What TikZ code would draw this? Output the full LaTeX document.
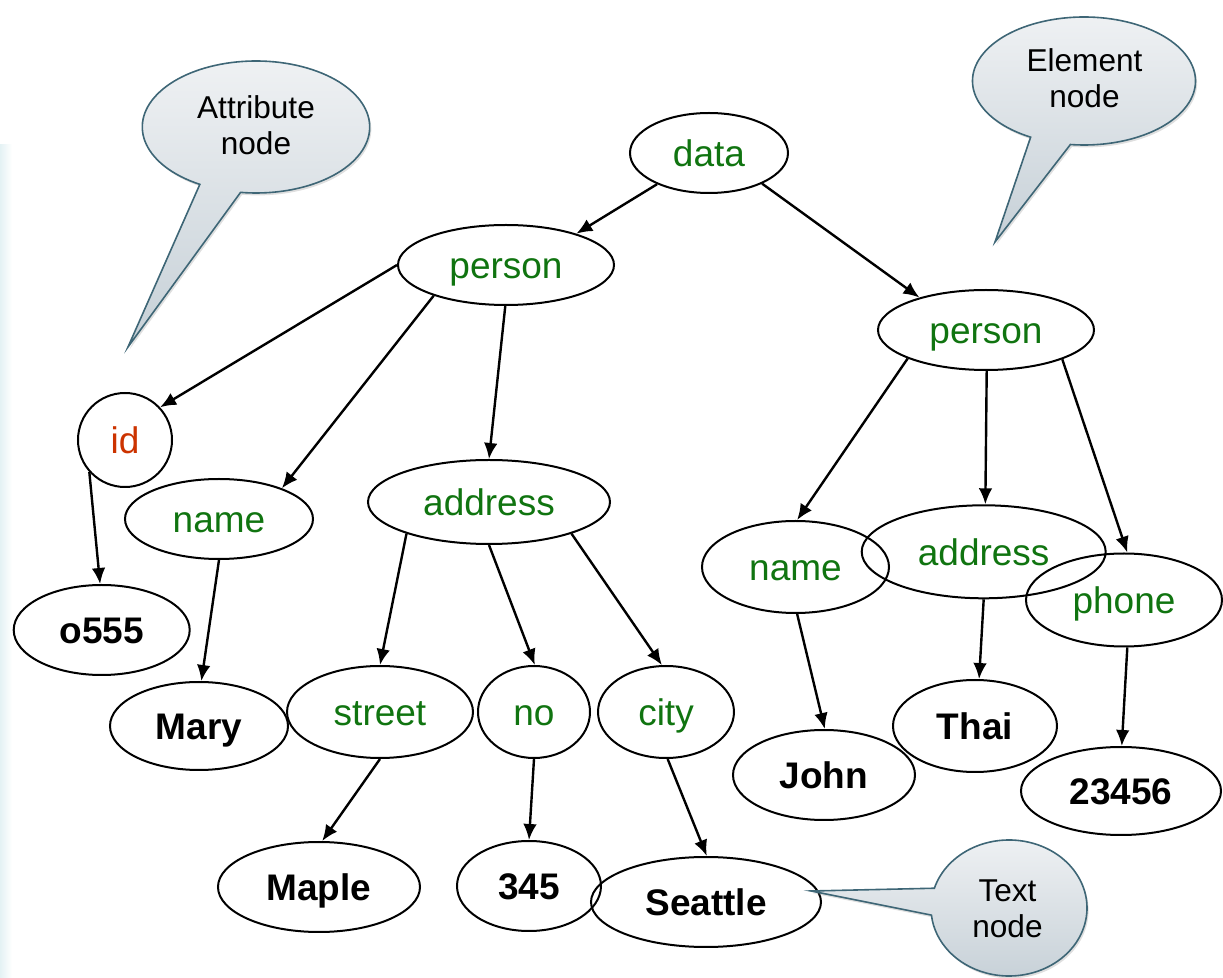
\documentclass[tikz,border=0pt]{standalone}
\usepackage{fontspec}
\setmainfont{Liberation Sans}
\usetikzlibrary{arrows.meta,shapes.geometric,shadows,calc}
\definecolor{elgreen}{RGB}{16,116,16}
\definecolor{attred}{RGB}{204,51,0}
\definecolor{calline}{RGB}{62,102,118}
\definecolor{caltop}{RGB}{240,242,244}
\definecolor{calbot}{RGB}{198,208,215}
\definecolor{stripc}{RGB}{228,242,244}
\begin{document}
\begin{tikzpicture}[x=0.5pt,y=-0.5pt,
  tnode/.style={ellipse,draw,line width=1pt,inner sep=0pt,text height=16.3pt,text depth=2.6pt,font=\fontsize{18.5}{22}\selectfont},
  elem/.style={tnode,text=elgreen},
  txt/.style={tnode,font=\fontsize{18.5}{22}\selectfont\bfseries},
  edge/.style={line width=1.2pt,-{Latex[length=8pt,width=6.8pt]}},
  callout/.style={draw=calline,line width=0.8pt,top color=caltop,bottom color=calbot,drop shadow={opacity=0.25,shadow xshift=0.8pt,shadow yshift=-1.2pt}},
  caltext/.style={anchor=base,inner sep=0pt,font=\fontsize{15.8}{18}\selectfont}
]
\useasboundingbox (0,0) rectangle (1223,978);
\shade[left color=stripc,right color=white] (0,145) rectangle (12,978);

% element nodes
\node[elem,minimum width=79pt,minimum height=40pt] (data) at (709,153) {data};
\node[elem,minimum width=108pt,minimum height=40pt] (p1) at (506,265) {person};
\node[elem,minimum width=108pt,minimum height=40pt] (p2) at (986,330) {person};
\node[tnode,circle,text=attred,minimum size=47pt] (id) at (125,440) {id};
\node[elem,minimum width=94pt,minimum height=40pt] (name1) at (219,519) {name};
\node[elem,minimum width=121pt,minimum height=42pt] (addr1) at (489,502) {address};
\node[elem,minimum width=93pt,minimum height=46pt] (street) at (380,712) {street};
\node[elem,minimum width=56pt,minimum height=46pt] (no) at (534,712) {no};
\node[elem,minimum width=68pt,minimum height=46pt] (city) at (666,712) {city};
\node[elem,minimum width=93.5pt,minimum height=46pt] (name2) at (795.5,567) {name};
\node[elem,minimum width=122pt,minimum height=46.5pt] (addr2) at (983.7,551.8) {address};
\node[elem,minimum width=98pt,minimum height=46.5pt] (phone) at (1124,600) {phone};

% text nodes
\node[txt,minimum width=88pt,minimum height=45pt] (o555) at (101.7,630) {o555};
\node[txt,minimum width=89pt,minimum height=44pt] (mary) at (199,726) {Mary};
\node[txt,minimum width=101pt,minimum height=45pt] (maple) at (319,887) {Maple};
\node[txt,minimum width=72pt,minimum height=45pt] (n345) at (529,886) {345};
\node[txt,minimum width=115pt,minimum height=45pt] (seattle) at (706,902) {Seattle};
\node[txt,minimum width=91pt,minimum height=45pt] (john) at (824,775) {John};
\node[txt,minimum width=82pt,minimum height=46pt] (thai) at (975,726) {Thai};
\node[txt,minimum width=100pt,minimum height=44pt] (n23456) at (1121,791) {23456};

% edges
\draw[edge] (data.211) -- (p1.24);
\draw[edge] (p1.180) -- (id.43);
\draw[edge] (p1.203) -- (name1.26);
\draw[edge] (p1.269) -- (addr1.90);
\draw[edge] (data.330) -- (p2.154);
\draw[edge] (p2.200) -- (name2.88);
\draw[edge] (p2.271) -- (addr2.88);
\draw[edge] (p2.339) -- (phone.86);
\draw[edge] (id.222) -- (o555.92);
\draw[edge] (name1.270) -- (mary.87);
\draw[edge] (addr1.201) -- (street.90);
\draw[edge] (addr1.270) -- (no.89);
\draw[edge] (addr1.339) -- (city.95);
\draw[edge] (street.270) -- (maple.86);
\draw[edge] (no.270) -- (n345.90);
\draw[edge] (city.272) -- (seattle.89);
\draw[edge] (name2.272) -- (john.89);
\draw[edge] (addr2.270) -- (thai.85);
\draw[edge] (phone.274) -- (n23456.89);

% callouts
\coordinate (attrC) at (256,127);
\coordinate (attrTip) at (128,347);
\path[callout] (attrTip) -- ($(attrC)+(119.6:113.7 and 66)$) arc[start angle=119.6,end angle=457.8,x radius=113.7,y radius=66] -- cycle;
\node[caltext] (attrT1) at (256,119) {Attribute};
\node[caltext] (attrT2) at (256,155) {node};

\coordinate (elemC) at (1084,81);
\coordinate (elemTip) at (995,242);
\path[callout] (elemTip) -- ($(elemC)+(118.6:111.5 and 64)$) arc[start angle=118.6,end angle=457,x radius=111.5,y radius=64] -- cycle;
\node[caltext] (elemT1) at (1084.5,71.7) {Element};
\node[caltext] (elemT2) at (1084.5,107.3) {node};

\coordinate (textC) at (1009,908);
\coordinate (textTip) at (811,891);
\path[callout] (textTip) -- ($(textC)+(196.9:78 and 68)$) arc[start angle=196.9,end angle=534,x radius=78,y radius=68] -- cycle;
\node[caltext] (textT1) at (1007.5,901.7) {Text};
\node[caltext] (textT2) at (1007.5,938) {node};
\end{tikzpicture}
\end{document}
